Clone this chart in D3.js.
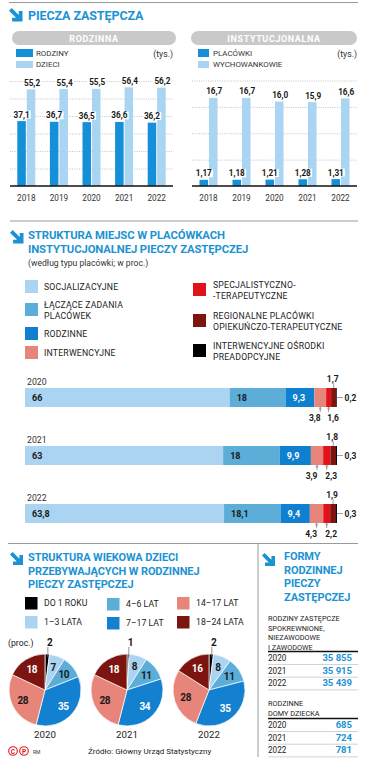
<!DOCTYPE html>
<html><head><meta charset="utf-8">
<script src="https://cdn.jsdelivr.net/npm/d3@7"></script>
<style>
body{margin:0;background:#fff}
svg{display:block;font-family:Roboto,"Noto Sans",sans-serif}
</style>
</head><body><svg id="c" width="371" height="760"></svg>
<script>
// ---------- DATA ----------
const years = ["2018","2019","2020","2021","2022"];
const rodziny = [37.1,36.7,36.5,36.6,36.2];
const dzieci = [55.2,55.4,55.5,56.4,56.2];
const placowki = [1.17,1.18,1.21,1.28,1.31];
const wychowankowie = [16.7,16.7,16.0,15.9,16.6];
const leftTicks = [10,20,30,40,50,60];
const rightTicks = [5,10,15,20];

const structYears = ["2020","2021","2022"];
const structCategories = ["SOCJALIZACYJNE","ŁĄCZĄCE ZADANIA|PLACÓWEK","RODZINNE","INTERWENCYJNE","SPECJALISTYCZNO-|-TERAPEUTYCZNE","REGIONALNE PLACÓWKI|OPIEKUŃCZO-TERAPEUTYCZNE","INTERWENCYJNE OŚRODKI|PREADOPCYJNE"];
const struct2020 = [66,18,9.3,3.8,1.6,1.7,0.2];
const struct2021 = [63,18,9.9,3.9,2.3,1.8,0.3];
const struct2022 = [63.8,18.1,9.4,4.3,2.2,1.9,0.3];

const ageYears = ["2020","2021","2022"];
const ageGroups = ["DO 1 ROKU","1–3 LATA","4–6 LAT","7–17 LAT","14–17 LAT","18–24 LATA"];
const age2020 = [2,7,10,35,28,18];
const age2021 = [1,8,11,34,28,18];
const age2022 = [2,8,11,35,28,16];

const tableYears = ["2020","2021","2022"];
const rodzinyZastepcze = [35855,35915,35439];
const domyDziecka = [685,724,781];

// ---------- STYLE ----------
const BLUE_T = "#1b93d3";
const C_DARK = "#1590d8", C_LIGHT = "#a9d4f2";
const structColors = ["#aad4f2","#5caed9","#0f80cf","#e8857a","#e2121b","#7c1410","#000000"];
const ageColors = ["#000000","#aad4f2","#5caed9","#1381cf","#e8857a","#7c1410"];

const svg = d3.select("#c");
const fmt = v => String(v).replace(".", ",");
const loc = d3.formatLocale({decimal:",", thousands:"\u2009", grouping:[3], currency:["",""]});
const fmtTh = v => loc.format(",")(v).replace("\u2009"," ");

function arrow(x, y, s) {
  const k = s / 13;
  svg.append("path")
    .attr("transform", `translate(${x},${y}) scale(${k})`)
    .attr("d", "M0,2.6 L2.6,0 L9.4,6.8 L9.4,3 L13,3 L13,13 L3,13 L3,9.4 L6.8,9.4 Z")
    .attr("fill", BLUE_T);
}
function title(x, ys, lines, size) {
  lines.forEach((t, i) => svg.append("text").attr("x", x).attr("y", ys[i])
    .attr("font-size", size).attr("font-weight", 700).attr("fill", BLUE_T)
    .attr("letter-spacing", -0.1).text(t));
}
function hline(x1, x2, y, col, w) {
  svg.append("line").attr("x1", x1).attr("x2", x2).attr("y1", y).attr("y2", y)
    .attr("stroke", col).attr("stroke-width", w);
}

// ---------- SECTION 1 ----------
hline(9, 358, 2.5, "#9a9a9a", 1);
arrow(9, 8, 13.5);
title(28, [20], ["PIECZA ZASTĘPCZA"], 12.5);

function panel(cfg) {
  const g = svg.append("g");
  g.append("rect").attr("x", cfg.pill[0]).attr("y", 31).attr("width", cfg.pill[1]-cfg.pill[0]).attr("height", 14)
    .attr("rx", 7).attr("fill", "#c9c9c9");
  g.append("text").attr("x", (cfg.pill[0]+cfg.pill[1])/2).attr("y", 41.5).attr("text-anchor","middle")
    .attr("font-size", 9).attr("font-weight", 700).attr("fill", "#fff").attr("letter-spacing", 0.6).text(cfg.pillText);
  g.append("rect").attr("x", cfg.legX).attr("y", 49).attr("width", cfg.legW).attr("height", 8).attr("fill", C_DARK);
  g.append("rect").attr("x", cfg.legX).attr("y", 61).attr("width", cfg.legW).attr("height", 7).attr("fill", C_LIGHT);
  g.append("text").attr("x", cfg.legTX).attr("y", 56).attr("font-size", 7.9).attr("fill", "#333").text(cfg.names[0]);
  g.append("text").attr("x", cfg.legTX).attr("y", 67).attr("font-size", 7.9).attr("fill", "#333").text(cfg.names[1]);
  g.append("text").attr("x", cfg.range[1]).attr("y", 57).attr("text-anchor","end").attr("font-size", 8.7).attr("fill", "#333").text("(tys.)");

  const x = d3.scaleBand().domain(years).range(cfg.range).paddingInner(0);
  const xs = d3.scaleBand().domain(["a","b"]).range([0, 18]).paddingInner(0.1);
  const y = d3.scaleLinear().domain(cfg.domain).range([186, cfg.top]);

  const grid = g.append("g").attr("transform", `translate(${cfg.range[0]},0)`)
    .call(d3.axisRight(y).tickValues(cfg.ticks).tickSize(cfg.range[1]-cfg.range[0]).tickFormat(""));
  grid.select(".domain").remove();
  grid.selectAll("line").attr("stroke", "#9a9a9a").attr("stroke-width", 0.6).attr("stroke-dasharray", "1,1.3");

  const cx = d => x(d) + x.bandwidth()/2 - 9;
  years.forEach((yr, i) => {
    const v1 = cfg.a[i], v2 = cfg.b[i];
    g.append("rect").attr("x", cx(yr)+xs("a")).attr("width", xs.bandwidth()).attr("y", y(v1)).attr("height", 186-y(v1)).attr("fill", C_DARK);
    g.append("rect").attr("x", cx(yr)+xs("b")).attr("width", xs.bandwidth()).attr("y", y(v2)).attr("height", 186-y(v2)).attr("fill", C_LIGHT);
  });
  const lab = (xx, yy, t) => {
    const tt = g.append("text").attr("x", xx).attr("y", yy).attr("text-anchor","middle")
      .attr("font-size", 8.2).attr("font-weight", 700).attr("fill", "#1a1a1a").text(t);
    const bb = tt.node().getBBox();
    g.insert("rect", () => tt.node()).attr("x", bb.x-1).attr("y", bb.y+1).attr("width", bb.width+2).attr("height", bb.height-2).attr("fill", "#fff");
  };
  years.forEach((yr, i) => {
    lab(cx(yr)+xs("a")+xs.bandwidth()/2, y(cfg.a[i]) - 3.5, fmt(cfg.a[i].toFixed(cfg.dec[0])));
    lab(cx(yr)+xs("b")+xs.bandwidth()/2 + 1, y(cfg.b[i]) - 3.5, fmt(cfg.b[i].toFixed(1)));
  });
  hline(cfg.range[0], cfg.range[1], 186, "#111", 1.6);
  const ax = g.append("g").attr("transform", "translate(0,192)")
    .call(d3.axisBottom(x).tickSize(0).tickPadding(3));
  ax.select(".domain").remove();
  ax.selectAll("text").attr("font-size", 8.2).attr("fill", "#333").attr("font-family", "Roboto,sans-serif");
}
panel({pill:[12,176], pillText:"RODZINNA", legX:16, legW:17, legTX:36, names:["RODZINY","DZIECI"],
  range:[10,173], domain:[0,60], top:81, ticks:leftTicks, a:rodziny, b:dzieci, dec:[1]});
panel({pill:[191,357], pillText:"INSTYTUCJONALNA", legX:198, legW:11, legTX:213, names:["PLACÓWKI","WYCHOWANKOWIE"],
  range:[192,357], domain:[0,20], top:80.5, ticks:rightTicks, a:placowki, b:wychowankowie, dec:[2]});

// ---------- SECTION 2 ----------
hline(10, 358, 221, "#9a9a9a", 1);
arrow(10, 230, 13.5);
title(28, [239, 252.5], ["STRUKTURA MIEJSC W PLACÓWKACH","INSTYTUCJONALNEJ PIECZY ZASTĘPCZEJ"], 11.3);
svg.append("text").attr("x", 28).attr("y", 266).attr("font-size", 8.6).attr("fill", "#333").text("(według typu placówki; w proc.)");

const legPos = [[25,280],[25,303],[25,327],[25,346],[193,283],[193,314],[193,344]];
structCategories.forEach((c, i) => {
  const [lx, ly] = legPos[i];
  svg.append("rect").attr("x", lx).attr("y", ly).attr("width", 13).attr("height", 13).attr("fill", structColors[i]);
  const lines = c.split("|");
  const ty = lines.length === 1 ? ly + 9.8 : ly + 4.8;
  lines.forEach((t, j) => svg.append("text").attr("x", lx + (i < 4 ? 19 : 20)).attr("y", ty + j*10.8)
    .attr("font-size", 8.7).attr("fill", "#222").attr("letter-spacing", 0.2).text(t));
});

const structData = [struct2020, struct2021, struct2022];
const rowScale = d3.scaleBand().domain(structYears).range([372, 546]);
structYears.forEach((yr, r) => {
  const vals = structData[r];
  const total = d3.sum(vals);
  const xs = d3.scaleLinear().domain([0, total]).range([25, 337]);
  const top = rowScale(yr) + 16, h = 19;
  svg.append("text").attr("x", 27).attr("y", rowScale(yr) + 13).attr("font-size", 8.7).attr("fill", "#333").text(yr);
  let acc = 0;
  const segs = vals.map(v => { const s = {x0: acc, x1: acc + v, v}; acc += v; return s; });
  segs.forEach((s, i) => {
    svg.append("rect").attr("x", xs(s.x0)).attr("y", top).attr("width", xs(s.x1) - xs(s.x0)).attr("height", h).attr("fill", structColors[i]);
  });
  [0,1,2].forEach(i => {
    svg.append("text").attr("x", xs(segs[i].x0) + 7).attr("y", top + 13).attr("font-size", 9).attr("font-weight", 700)
      .attr("fill", i === 2 ? "#fff" : "#1a1a1a").text(fmt(segs[i].v));
  });
  const mid = i => (xs(segs[i].x0) + xs(segs[i].x1)) / 2;
  const m5 = mid(5);
  svg.append("line").attr("x1", m5).attr("x2", m5).attr("y1", top - 4.5).attr("y2", top).attr("stroke", "#777").attr("stroke-width", 0.7);
  svg.append("text").attr("x", m5 - 1).attr("y", top - 6.5).attr("text-anchor", "middle").attr("font-size", 8.5).attr("font-weight", 700).attr("fill", "#1a1a1a").text(fmt(segs[5].v));
  const m3 = mid(3), m4 = mid(4);
  [m3, m4].forEach(mx => {
    svg.append("line").attr("x1", mx).attr("x2", mx).attr("y1", top + h).attr("y2", top + h + 5).attr("stroke", "#777").attr("stroke-width", 0.7);
    svg.append("circle").attr("cx", mx).attr("cy", top + h + 1.5).attr("r", 1).attr("fill", "none").attr("stroke", "#777").attr("stroke-width", 0.5);
  });
  svg.append("text").attr("x", m3 + 0.5).attr("y", top + h + 14).attr("text-anchor", "end").attr("font-size", 8.5).attr("font-weight", 700).attr("fill", "#1a1a1a").text(fmt(segs[3].v));
  svg.append("text").attr("x", m4 - 1.5).attr("y", top + h + 14).attr("text-anchor", "start").attr("font-size", 8.5).attr("font-weight", 700).attr("fill", "#1a1a1a").text(fmt(segs[4].v));
  const end = xs(total);
  svg.append("line").attr("x1", end).attr("x2", end + 6).attr("y1", top + h/2).attr("y2", top + h/2).attr("stroke", "#777").attr("stroke-width", 0.7);
  svg.append("text").attr("x", end + 7.5).attr("y", top + h/2 + 3).attr("font-size", 8.5).attr("font-weight", 700).attr("fill", "#1a1a1a").text(fmt(segs[6].v));
});

// ---------- SECTION 3 (pies) ----------
hline(8, 358, 543.5, "#9a9a9a", 1);
svg.append("line").attr("x1", 258).attr("x2", 258).attr("y1", 543.5).attr("y2", 757).attr("stroke", "#9a9a9a").attr("stroke-width", 1);
arrow(10, 552, 13);
title(28, [561, 574.5, 588], ["STRUKTURA WIEKOWA DZIECI","PRZEBYWAJĄCYCH W RODZINNEJ","PIECZY ZASTĘPCZEJ"], 11);

const ageLeg = [[25,597],[25,616],[107,598],[107,617],[177,597],[177,616]];
ageGroups.forEach((a, i) => {
  const [lx, ly] = ageLeg[i];
  svg.append("rect").attr("x", lx).attr("y", ly).attr("width", 12.5).attr("height", 12.5).attr("fill", ageColors[i]);
  svg.append("text").attr("x", lx + 19).attr("y", ly + 9.3).attr("font-size", 8.7).attr("fill", "#222").text(a);
});

svg.append("text").attr("x", 8).attr("y", 646).attr("font-size", 8.7).attr("fill", "#222").text("(proc.)");

const ageData = [age2020, age2021, age2022];
const pieX = d3.scaleBand().domain(ageYears).range([4, 250]);
const R = 36, CY = 690;
const pie = d3.pie().sort(null).value(d => d);
const arcG = d3.arc().innerRadius(0).outerRadius(R);
const labArc = d3.arc().innerRadius(24.5).outerRadius(24.5);
ageYears.forEach((yr, p) => {
  const cx = pieX(yr) + pieX.bandwidth()/2;
  const g = svg.append("g").attr("transform", `translate(${cx},${CY})`);
  const arcs = pie(ageData[p]);
  g.selectAll("path").data(arcs).join("path").attr("d", arcG)
    .attr("fill", (d, i) => ageColors[i]).attr("stroke", "#fff").attr("stroke-width", 0.7);
  arcs.forEach((a, i) => {
    if (i === 0) {
      const ang = (a.startAngle + a.endAngle) / 2;
      const sx = Math.sin(ang);
      g.append("line").attr("x1", sx * (R - 3) + 0.8).attr("x2", sx * (R - 3) + 0.8).attr("y1", -R + 3).attr("y2", -R - 7)
        .attr("stroke", "#777").attr("stroke-width", 0.8);
      g.append("text").attr("x", sx * R + 2.5).attr("y", -R - 8).attr("text-anchor", "middle")
        .attr("font-size", 10).attr("font-weight", 700).attr("fill", "#1a1a1a").text(a.data);
      return;
    }
    const [lx, ly] = labArc.centroid(a);
    g.append("text").attr("x", lx).attr("y", ly + 3.6).attr("text-anchor", "middle")
      .attr("font-size", 10).attr("font-weight", 700).attr("letter-spacing", -0.3)
      .attr("fill", (i === 3 || i === 5) ? "#fff" : "#1a1a1a").text(a.data);
  });
  svg.append("text").attr("x", cx).attr("y", 737.5).attr("text-anchor", "middle").attr("font-size", 9.7).attr("fill", "#222").text(yr);
});

// footer
[[13,"C"],[24,"P"]].forEach(([x, t]) => {
  svg.append("circle").attr("cx", x).attr("cy", 751).attr("r", 4.3).attr("fill", "none").attr("stroke", "#e0141b").attr("stroke-width", 1.1);
  svg.append("text").attr("x", x).attr("y", 753.8).attr("text-anchor", "middle").attr("font-size", 6.5).attr("font-weight", 700).attr("fill", "#e0141b").text(t);
});
svg.append("text").attr("x", 33).attr("y", 753.5).attr("font-size", 5).attr("fill", "#333").text("RM");
svg.append("text").attr("x", 88).attr("y", 754).attr("font-size", 8).attr("fill", "#222").text("Źródło: Główny Urząd Statystyczny");

// ---------- RIGHT TABLE ----------
arrow(262, 553, 13);
title(284, [560, 573.5, 587, 600.5], ["FORMY","RODZINNEJ","PIECZY","ZASTĘPCZEJ"], 11);

function table(headLines, headY, lineY, vals, rowY) {
  headLines.forEach((t, i) => svg.append("text").attr("x", 268).attr("y", headY + i*9.6)
    .attr("font-size", 7.3).attr("fill", "#222").text(t));
  hline(268, 358, lineY, "#111", 1.4);
  tableYears.forEach((yr, i) => {
    const by = rowY + i*12.7;
    svg.append("text").attr("x", 268).attr("y", by).attr("font-size", 8.2).attr("fill", "#222").text(yr);
    svg.append("text").attr("x", 352).attr("y", by).attr("text-anchor", "end").attr("font-size", 9.5)
      .attr("font-weight", 700).attr("fill", BLUE_T).text(fmtTh(vals[i]));
    hline(268, 358, by + 3.5, "#b5b5b5", 0.6);
  });
}
table(["RODZINY ZASTĘPCZE","SPOKREWNIONE,","NIEZAWODOWE","I ZAWODOWE"], 621, 651.5, rodzinyZastepcze, 661);
table(["RODZINNE","DOMY DZIECKA"], 706, 718.5, domyDziecka, 728);
</script></body></html>
